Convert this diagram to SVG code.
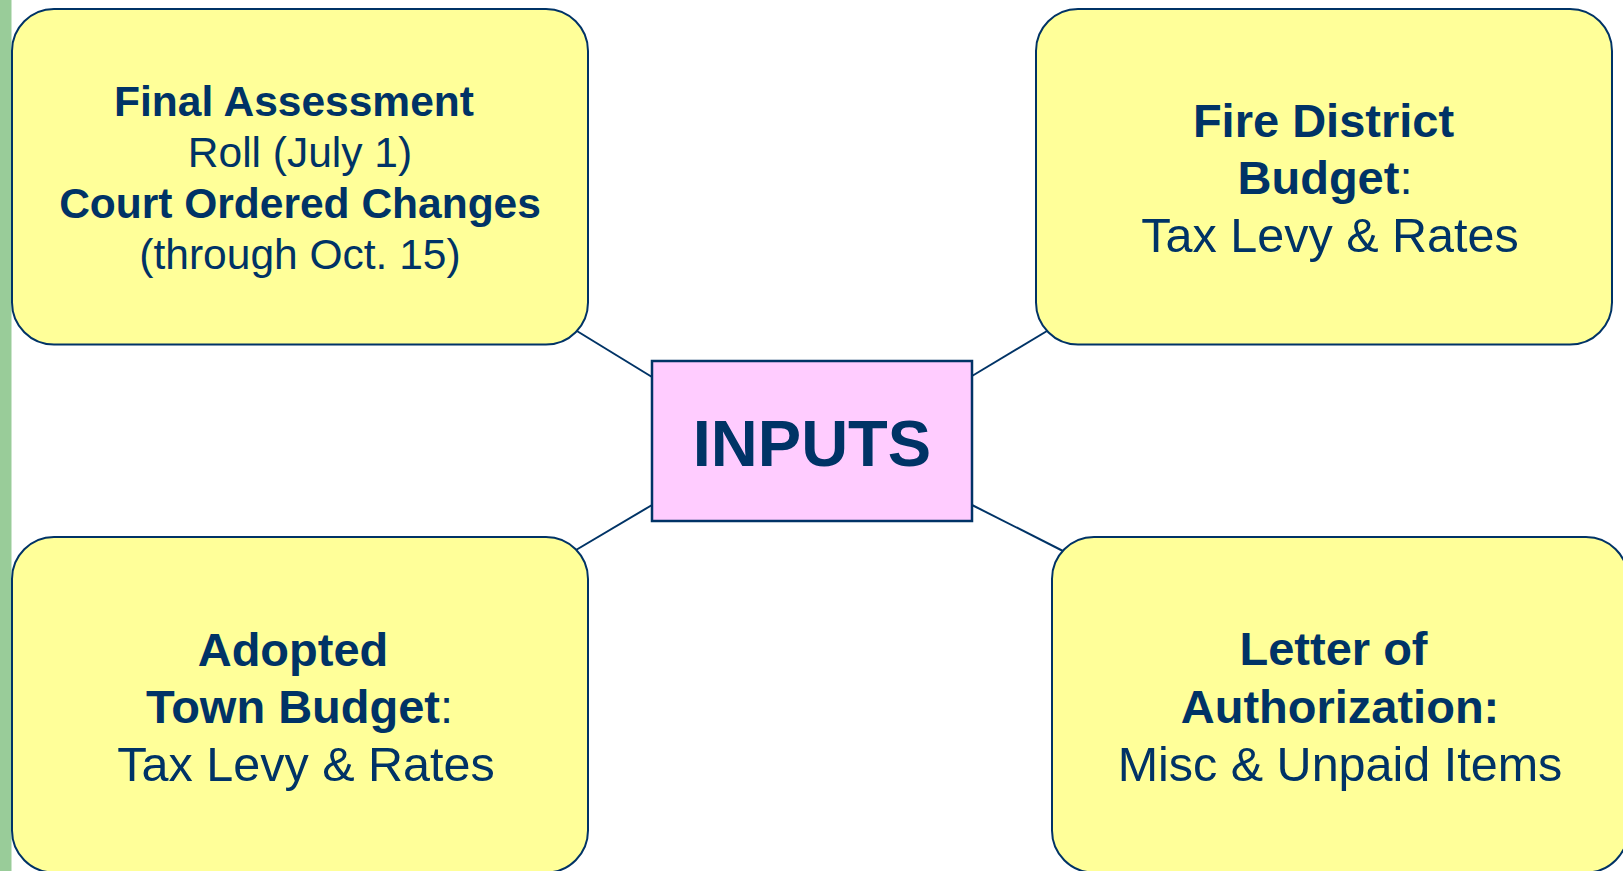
<svg xmlns="http://www.w3.org/2000/svg" width="1623" height="871" viewBox="0 0 1623 871">
<style>
.box{fill:#FFFF99;stroke:#003366;stroke-width:2}
.hub{fill:#FFCCFF;stroke:#003366;stroke-width:2.5}
.conn{stroke:#003366;stroke-width:2;fill:none}
text{font-family:"Liberation Sans",Arial,Helvetica,sans-serif;fill:#003366;text-anchor:middle}
.b{font-weight:bold}
.t1{font-size:42.5px}
.t2{font-size:47px}
.t3{font-size:48.5px}
</style>
<rect x="0" y="0" width="1623" height="871" fill="#FFFFFF"/>
<rect x="0" y="0" width="11.5" height="871" fill="#99CC99"/>
<g id="connectors">
<line class="conn" x1="572" y1="328" x2="652" y2="377"/>
<line class="conn" x1="1052" y1="328" x2="972" y2="376"/>
<line class="conn" x1="576" y1="550" x2="652" y2="505"/>
<line class="conn" x1="972" y1="505" x2="1063" y2="551"/>
</g>
<g id="node-final-assessment">
<rect class="box" x="12" y="9" width="576" height="335.5" rx="42" ry="42"/>
<text class="t1 b" x="294" y="116">Final Assessment</text>
<text class="t1" x="300" y="167">Roll (July 1)</text>
<text class="t1 b" x="300" y="218">Court Ordered Changes</text>
<text class="t1" x="300" y="269">(through Oct. 15)</text>
</g>
<g id="node-fire-district">
<rect class="box" x="1036" y="9" width="576" height="335.5" rx="42" ry="42"/>
<text class="t2 b" x="1323.5" y="137">Fire District</text>
<text class="t2" x="1325" y="194"><tspan class="b">Budget</tspan>:</text>
<text class="t3" x="1330" y="252">Tax Levy &amp; Rates</text>
</g>
<g id="node-town-budget">
<rect class="box" x="12" y="537" width="576" height="335.5" rx="42" ry="42"/>
<text class="t2 b" x="293" y="666">Adopted</text>
<text class="t2" x="299.5" y="723"><tspan class="b">Town Budget</tspan>:</text>
<text class="t3" x="306" y="781">Tax Levy &amp; Rates</text>
</g>
<g id="node-letter-authorization">
<rect class="box" x="1052" y="537" width="576" height="335.5" rx="42" ry="42"/>
<text class="t2 b" x="1333.5" y="665">Letter of</text>
<text class="t2 b" x="1340" y="723">Authorization:</text>
<text class="t3" x="1340" y="781">Misc &amp; Unpaid Items</text>
</g>
<g id="node-inputs">
<rect class="hub" x="652" y="361" width="320" height="160"/>
<text class="b" x="812" y="466" font-size="65">INPUTS</text>
</g>
</svg>
